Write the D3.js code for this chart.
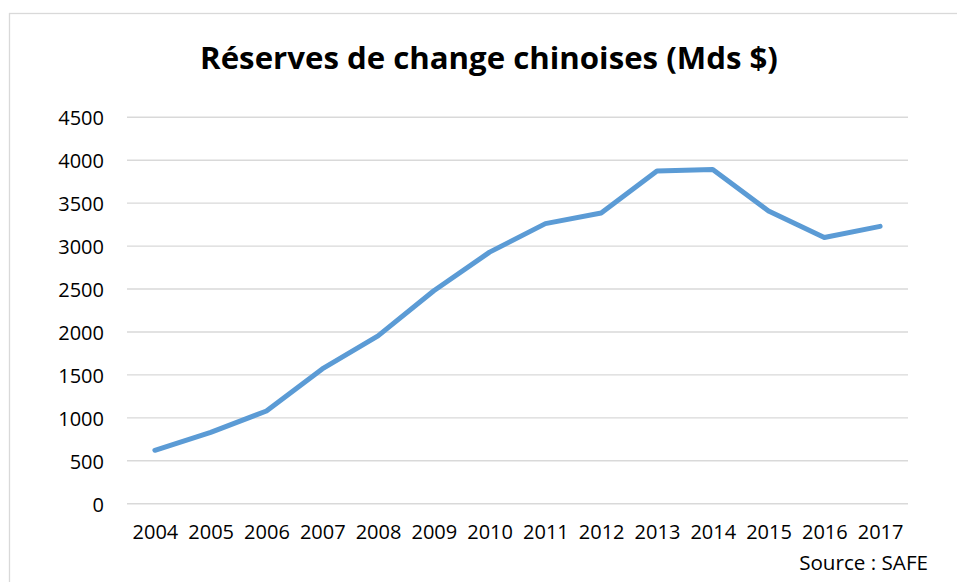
<!DOCTYPE html>
<html><head><meta charset="utf-8">
<script src="https://cdn.jsdelivr.net/npm/d3@7"></script>
<style>html,body{margin:0;padding:0;background:#fff;overflow:hidden}</style>
</head><body>
<svg id="chart" width="957" height="582"></svg>
<script>
const years = ["2004","2005","2006","2007","2008","2009","2010","2011","2012","2013","2014","2015","2016","2017"];
const reserves = [622, 830, 1080, 1570, 1955, 2480, 2930, 3262, 3385, 3875, 3892, 3410, 3100, 3230];
const yTicks = [0, 500, 1000, 1500, 2000, 2500, 3000, 3500, 4000, 4500];
const titleText = "Réserves de change chinoises (Mds $)";
const sourceText = "Source : SAFE";

(function () {
const svg = d3.select("#chart");
const font = "'Open Sans', 'Noto Sans', sans-serif";

// chart border
svg.append("rect").attr("x", 9.5).attr("y", 13.5).attr("width", 1000).attr("height", 700)
  .attr("fill", "#fff").attr("stroke", "#d9d9d9").attr("stroke-width", 1.3);

const pLeft = 127, pRight = 908, pTop = 117.3, pBottom = 503.7;
const x = d3.scalePoint().domain(years).range([pLeft, pRight]).padding(0.5);
const y = d3.scaleLinear().domain([0, 4500]).range([pBottom, pTop]);

// gridlines
svg.append("g").selectAll("line").data(yTicks).join("line")
  .attr("x1", pLeft).attr("x2", pRight)
  .attr("y1", d => y(d)).attr("y2", d => y(d))
  .attr("stroke", "#d9d9d9").attr("stroke-width", 1.4);

// y axis labels
const yAxis = d3.axisLeft(y).tickValues(yTicks).tickSize(0).tickPadding(0).tickFormat(d3.format("d"));
const gy = svg.append("g").attr("transform", `translate(104,1)`).call(yAxis);
gy.select(".domain").remove();
gy.selectAll("text").attr("font-family", font).attr("font-size", 20).attr("fill", "#000");

// x axis labels
const xAxis = d3.axisBottom(x).tickSize(0).tickPadding(0);
const gx = svg.append("g").attr("transform", `translate(0,525)`).call(xAxis);
gx.select(".domain").remove();
gx.selectAll("text").attr("font-family", font).attr("font-size", 20).attr("fill", "#000");

// line
const line = d3.line().x((d, i) => x(years[i])).y(d => y(d));
svg.append("path").datum(reserves).attr("d", line)
  .attr("fill", "none").attr("stroke", "#5b9bd5").attr("stroke-width", 5)
  .attr("stroke-linejoin", "round").attr("stroke-linecap", "round");

// title
const t = svg.append("text").attr("x", 489).attr("y", 69).attr("text-anchor", "middle")
  .attr("font-family", font).attr("font-weight", "bold").attr("font-size", 30).attr("fill", "#000")
  .text(titleText);
const tw = t.node().getComputedTextLength();
if (tw > 0) t.attr("font-size", 30 * 578 / tw);

// source
const s = svg.append("text").attr("x", 928).attr("y", 570).attr("text-anchor", "end")
  .attr("font-family", font).attr("font-size", 20).attr("fill", "#000").text(sourceText);
const sw = s.node().getComputedTextLength();
if (sw > 0) s.attr("font-size", 20 * 129 / sw);
})();
</script>
</body></html>
